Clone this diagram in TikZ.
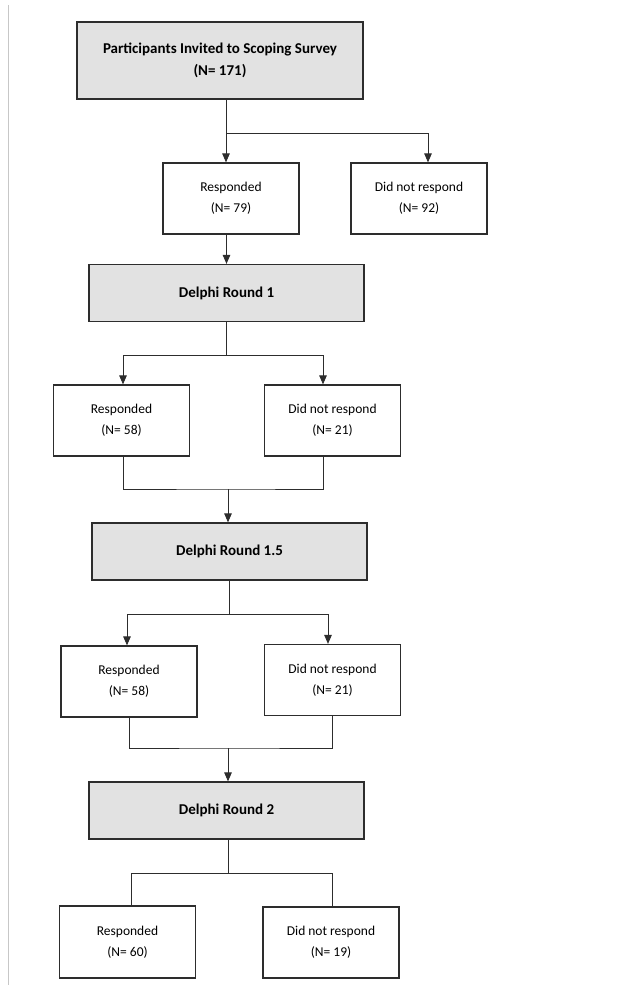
\documentclass[tikz,border=0pt]{standalone}
\usepackage{fontspec}
\setmainfont{Carlito}
\usetikzlibrary{arrows.meta}

\definecolor{boxgray}{RGB}{226,226,226}
\definecolor{edgegray}{RGB}{45,45,45}

\tikzset{
    box/.style={draw=edgegray,line width=1.2pt,fill=white,align=center,
        minimum width=136pt,minimum height=71pt,inner sep=0pt,
        font=\fontsize{13.5}{21}\selectfont},
    roundbox/.style={box,fill=boxgray,minimum width=275pt,minimum height=57pt,
        font=\bfseries\fontsize{15}{22}\selectfont},
    link/.style={draw=edgegray,line width=0.9pt},
    arr/.style={link,-{Triangle[length=9pt,width=7.5pt]}}
}

\begin{document}
\begin{tikzpicture}[x=1pt,y=-1pt,line cap=butt,line join=miter]
        \useasboundingbox (0,0) rectangle (622,985);
        \draw[black!22,line width=0.8pt] (8,5) -- (8,985);

        % Scoping survey
        \node[roundbox,minimum width=286pt,minimum height=77pt] (invited) at (220,60.5)
            {Participants Invited to Scoping Survey\\(N= 171)};
        \node[box] (resp0) at (231,198.5) {Responded\\(N= 79)};
        \node[box] (noresp0) at (419,198.5) {Did not respond\\(N= 92)};
        \coordinate (split0) at (226,133);
        \draw[link] (invited.south -| split0) -- (split0);
        \draw[arr] (split0) -- (split0 |- resp0.north);
        \draw[arr] (split0) -| ([xshift=9pt]noresp0.north);

        % Delphi round 1
        \node[roundbox] (round1) at (226.5,293) {Delphi Round 1};
        \draw[arr] (resp0.south -| round1.north) -- (round1.north);
        \node[box] (resp1) at (121.5,420.5) {Responded\\(N= 58)};
        \node[box] (noresp1) at (332.5,420.5) {Did not respond\\(N= 21)};
        \coordinate (split1) at (226,355);
        \draw[link] (round1.south -| split1) -- (split1);
        \draw[arr] (split1) -| ([xshift=1.5pt]resp1.north);
        \draw[arr] (split1) -| ([xshift=-9.5pt]noresp1.north);
        \coordinate (merge1) at (228,489);
        \draw[link] ([xshift=1.5pt]resp1.south) |- (merge1)
            -| ([xshift=-9.5pt]noresp1.south);

        % Delphi round 1.5
        \node[roundbox] (round15) at (229.5,551.5) {Delphi Round 1.5};
        \draw[arr] (merge1) -- (merge1 |- round15.north);
        \node[box] (resp15) at (129,681.5) {Responded\\(N= 58)};
        \node[box] (noresp15) at (332.5,680) {Did not respond\\(N= 21)};
        \coordinate (split15) at (229,614);
        \draw[link] (round15.south -| split15) -- (split15);
        \draw[arr] (split15) -| ([xshift=-2pt]resp15.north);
        \draw[arr] (split15) -| ([xshift=-4.5pt]noresp15.north);
        \coordinate (merge15) at (228,748);
        \draw[link] (resp15.south) |- (merge15) -| (noresp15.south);

        % Delphi round 2
        \node[roundbox] (round2) at (226.5,810.5) {Delphi Round 2};
        \draw[arr] (merge15) -- (merge15 |- round2.north);
        \node[box,minimum height=72pt] (resp2) at (127.5,942) {Responded\\(N= 60)};
        \node[box] (noresp2) at (331,942.5) {Did not respond\\(N= 19)};
        \coordinate (split2) at (228,873);
        \draw[link] (round2.south -| split2) -- (split2);
        \draw[link] (split2) -| ([xshift=3.5pt]resp2.north);
        \draw[link] (split2) -| ([xshift=1pt]noresp2.north);

    \end{tikzpicture}
\end{document}
